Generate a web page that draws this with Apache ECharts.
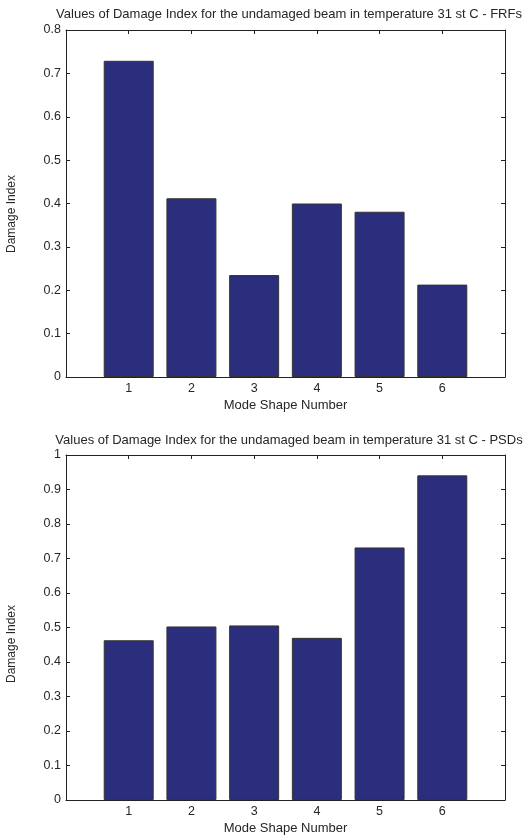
<!DOCTYPE html>
<html><head><meta charset="utf-8">
<script src="https://cdn.jsdelivr.net/npm/echarts@6/dist/echarts.min.js"></script>
<style>html,body{margin:0;padding:0;background:#fff}#c{width:524px;height:836px}</style>
</head><body><div id="c"></div>
<script>
const modes = [1, 2, 3, 4, 5, 6];
const frfValues = [0.729, 0.412, 0.235, 0.400, 0.381, 0.213];
const psdValues = [0.463, 0.503, 0.506, 0.470, 0.732, 0.941];
const titles = [
  'Values of Damage Index for the undamaged beam in temperature 31 st C - FRFs',
  'Values of Damage Index for the undamaged beam in temperature 31 st C - PSDs'
];
const xLabel = 'Mode Shape Number';
const yLabel = 'Damage Index';
const yMax = [0.8, 1];

const font = 'Liberation Sans, Arial, sans-serif';
const txt = '#262626';
const grids = [
  {left: 66, right: 19, top: 30, bottom: 459},
  {left: 66, right: 19, top: 455, bottom: 34}
];
const xAxes = [], yAxes = [], series = [];
[frfValues, psdValues].forEach((vals, g) => {
  const xl = v => (v >= 1 && v <= 6) ? String(v) : '';
  xAxes.push({gridIndex: g, type: 'value', position: 'bottom', min: 0, max: 7, interval: 1,
    name: xLabel, nameLocation: 'middle', nameGap: 22,
    nameTextStyle: {fontFamily: font, fontSize: 13, color: txt},
    axisLine: {onZero: false, lineStyle: {color: '#222', width: 1}},
    axisTick: {inside: true, length: 4, lineStyle: {color: '#222'}},
    axisLabel: {formatter: xl, fontFamily: font, fontSize: 12.5, color: txt, margin: 5},
    splitLine: {show: false}});
  xAxes.push({gridIndex: g, type: 'value', position: 'top', min: 0, max: 7, interval: 1,
    axisLine: {onZero: false, lineStyle: {color: '#222', width: 1}},
    axisTick: {inside: true, length: 4, lineStyle: {color: '#222'}},
    axisLabel: {show: false}, splitLine: {show: false}});
  yAxes.push({gridIndex: g, type: 'value', position: 'left', min: 0, max: yMax[g], interval: 0.1,
    axisLine: {show: true, onZero: false, lineStyle: {color: '#222', width: 1}},
    axisTick: {show: true, inside: true, length: 4, lineStyle: {color: '#222'}},
    axisLabel: {formatter: v => (Math.round(v * 10) / 10).toString(), fontFamily: font, fontSize: 12.5, color: txt, margin: 5},
    splitLine: {show: false}});
  yAxes.push({gridIndex: g, type: 'value', position: 'right', min: 0, max: yMax[g], interval: 0.1,
    axisLine: {show: true, onZero: false, lineStyle: {color: '#222', width: 1}},
    axisTick: {show: true, inside: true, length: 4, lineStyle: {color: '#222'}},
    axisLabel: {show: false}, splitLine: {show: false}});
  series.push({type: 'bar', xAxisIndex: g * 2, yAxisIndex: g * 2, barWidth: 50,
    data: modes.map((m, i) => [m, vals[i]]),
    itemStyle: {color: '#2B2E7C', borderColor: '#333', borderWidth: 1},
    animation: false});
});
const ylab = (y) => ({type: 'text', x: 12, y: y, rotation: Math.PI / 2,
  style: {text: yLabel, fontFamily: font, fontSize: 12, fill: txt, textAlign: 'center', textVerticalAlign: 'middle'}});
const chart = echarts.init(document.getElementById('c'), null, {renderer: 'canvas'});
chart.setOption({
  animation: false,
  backgroundColor: '#fff',
  title: [
    {text: titles[0], left: 284, top: 3, textAlign: 'center', textStyle: {fontFamily: font, fontSize: 13, fontWeight: 'normal', color: txt}},
    {text: titles[1], left: 284, top: 429, textAlign: 'center', textStyle: {fontFamily: font, fontSize: 13, fontWeight: 'normal', color: txt}}
  ],
  graphic: [ylab(214), ylab(644)],
  grid: grids,
  xAxis: xAxes,
  yAxis: yAxes,
  series: series
});
</script></body></html>
